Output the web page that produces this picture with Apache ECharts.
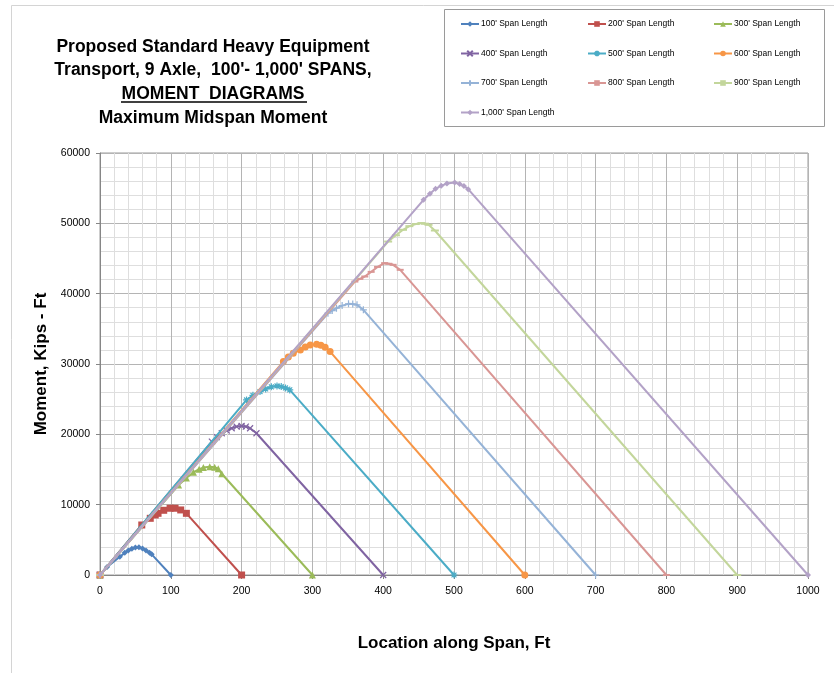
<!DOCTYPE html>
<html>
<head>
<meta charset="utf-8">
<script src="https://cdn.jsdelivr.net/npm/echarts@6/dist/echarts.min.js"></script>
<style>
html,body{margin:0;padding:0;background:#fff;}
#chart{width:834px;height:673px;}
</style>
</head>
<body>
<div id="chart"></div>
<script>
// ---- Data (x = location along span in ft, y = moment in kip-ft) ----
var seriesNames = ["100' Span Length","200' Span Length","300' Span Length","400' Span Length","500' Span Length",
                   "600' Span Length","700' Span Length","800' Span Length","900' Span Length","1,000' Span Length"];
var s100  = [[0,0],[10,1150],[28,2600],[35,3150],[40,3500],[45,3750],[50,3900],[55,3930],[60,3780],[65,3500],[70,3150],[73,2940],[100,0]];
var s200  = [[0,0],[59,7110],[71,8060],[78,8530],[82,8770],[90,9200],[99,9490],[106,9490],[114,9250],[122,8770],[200,0]];
var s300  = [[0,0],[111,12800],[122,13800],[132,14600],[140,15050],[146,15270],[155,15400],[162,15330],[167,15100],[172,14400],[300,0]];
var s400  = [[0,0],[158,18960],[165,19600],[172,20150],[179,20550],[186,20860],[193,21100],[200,21190],[206,21100],[212,20860],[221,20150],[400,0]];
var s500  = [[0,0],[207,24890],[216,25550],[226,26080],[234,26450],[242,26750],[250,26880],[256,26800],[262,26600],[268,26320],[500,0]];
var s600  = [[0,0],[259,30340],[266,31000],[273,31530],[283,32000],[290,32400],[297,32700],[306,32800],[312,32650],[318,32380],[325,31770],[600,0]];
var s700  = [[0,0],[322,37220],[328,37600],[334,37930],[342,38300],[351,38550],[357,38520],[363,38410],[372,37700],[700,0]];
var s800  = [[0,0],[360,41720],[367,42100],[374,42440],[383,43100],[392,43800],[402,44340],[408,44250],[414,44100],[424,43390],[800,0]];
var s900  = [[0,0],[407,47410],[418,48300],[428,49080],[437,49600],[446,49900],[454,50030],[459,49950],[464,49790],[473,48980],[900,0]];
var s1000 = [[0,0],[457,53340],[466,54200],[474,54900],[482,55350],[490,55650],[501,55800],[508,55600],[514,55300],[520,54860],[1000,0]];
var seriesData = [s100,s200,s300,s400,s500,s600,s700,s800,s900,s1000];

var colors = ['#4F81BD','#C0504D','#9BBB59','#8064A2','#4BACC6','#F79646','#95B3D7','#D99694','#C3D69B','#B3A2C7'];
var symbols = ['diamond','rect','triangle',
  'path://M0,0L10,10M10,0L0,10',
  'path://M5,0L5,10M0,5L10,5M1.5,1.5L8.5,8.5M8.5,1.5L1.5,8.5',
  'circle',
  'path://M5,0L5,10M0,5L10,5',
  'rect','rect','diamond'];
var symbolSizes = [6,7,7,6,7,7,7,[7,2],[8,2],6];
var strokeSym = [false,false,false,true,true,false,true,false,false,false];

var FONT = '"Liberation Sans", Arial, sans-serif';

var series = seriesData.map(function(d,i){
  return {
    name: seriesNames[i],
    type: 'line',
    data: d,
    symbol: symbols[i],
    symbolSize: symbolSizes[i],
    showAllSymbol: true,
    lineStyle: {color: colors[i], width: 2},
    itemStyle: strokeSym[i] ? {color: colors[i], borderColor: colors[i], borderWidth: 1.2} : {color: colors[i]},
    emphasis: {disabled: true},
    z: 2 + i
  };
});

function legendCol(left, names){
  return {
    orient: 'vertical', left: left, top: 19,
    itemWidth: 18, itemHeight: 7, itemGap: 19.5,
    padding: 0,
    data: names,
    textStyle: {fontFamily: FONT, fontSize: 8.5, color: '#000', lineHeight: 10, padding: [0,0,0,-3]},
    selectedMode: false
  };
}

function plain(v){ return String(v); }

var chart = echarts.init(document.getElementById('chart'), null, {renderer: 'canvas'});
chart.setOption({
  animation: false,
  backgroundColor: '#fff',
  grid: {left: 100, right: 26, top: 153, bottom: 98, show: true, borderColor: '#9a9a9a', borderWidth: 1, backgroundColor: 'transparent'},
  legend: [
    legendCol(460, [seriesNames[0], seriesNames[3], seriesNames[6], seriesNames[9]]),
    legendCol(587, [seriesNames[1], seriesNames[4], seriesNames[7]]),
    legendCol(713, [seriesNames[2], seriesNames[5], seriesNames[8]])
  ],
  xAxis: {
    type: 'value', min: 0, max: 1000, interval: 100,
    name: 'Location along Span, Ft', nameLocation: 'middle', nameGap: 60,
    nameTextStyle: {fontFamily: FONT, fontSize: 17, fontWeight: 'bold', color: '#000'},
    axisLine: {show: true, lineStyle: {color: '#868686'}},
    axisTick: {show: true, length: 4, lineStyle: {color: '#868686'}},
    axisLabel: {fontFamily: FONT, fontSize: 10.5, color: '#000', margin: 11, formatter: plain},
    splitLine: {show: true, lineStyle: {color: '#b4b4b4', width: 1}},
    minorTick: {show: false, splitNumber: 5},
    minorSplitLine: {show: true, lineStyle: {color: '#dedede', width: 1}}
  },
  yAxis: {
    type: 'value', min: 0, max: 60000, interval: 10000,
    name: 'Moment, Kips - Ft', nameLocation: 'middle', nameGap: 47,
    nameTextStyle: {fontFamily: FONT, fontSize: 17, fontWeight: 'bold', color: '#000'},
    axisLine: {show: true, lineStyle: {color: '#868686'}},
    axisTick: {show: true, length: 4, lineStyle: {color: '#868686'}},
    axisLabel: {fontFamily: FONT, fontSize: 10.5, color: '#000', margin: 10, formatter: plain},
    splitLine: {show: true, lineStyle: {color: '#b4b4b4', width: 1}},
    minorTick: {show: false, splitNumber: 5},
    minorSplitLine: {show: true, lineStyle: {color: '#dedede', width: 1}}
  },
  graphic: [
    {type: 'rect', shape: {x: 11.5, y: 5.5, width: 840, height: 700}, style: {fill: null, stroke: '#d4d4d4', lineWidth: 1}, silent: true, z: -1},
    {type: 'rect', shape: {x: 444.5, y: 9.5, width: 380, height: 117}, style: {fill: null, stroke: '#9a9a9a', lineWidth: 1}, silent: true},
    {type: 'text', x: 213, y: 47, style: {text: 'Proposed Standard Heavy Equipment', font: 'bold 17.5px ' + FONT, fill: '#000', align: 'center', verticalAlign: 'middle'}},
    {type: 'text', x: 213, y: 70, style: {text: "Transport, 9 Axle,  100'- 1,000' SPANS,", font: 'bold 17.5px ' + FONT, fill: '#000', align: 'center', verticalAlign: 'middle'}},
    {type: 'text', x: 213, y: 94, style: {text: 'MOMENT  DIAGRAMS', font: 'bold 17.5px ' + FONT, fill: '#000', align: 'center', verticalAlign: 'middle'}},
    {type: 'line', shape: {x1: 121, y1: 102, x2: 307, y2: 102}, style: {stroke: '#000', lineWidth: 1.3}},
    {type: 'text', x: 213, y: 118, style: {text: 'Maximum Midspan Moment', font: 'bold 17.5px ' + FONT, fill: '#000', align: 'center', verticalAlign: 'middle'}}
  ],
  series: series
});
</script>
</body>
</html>
